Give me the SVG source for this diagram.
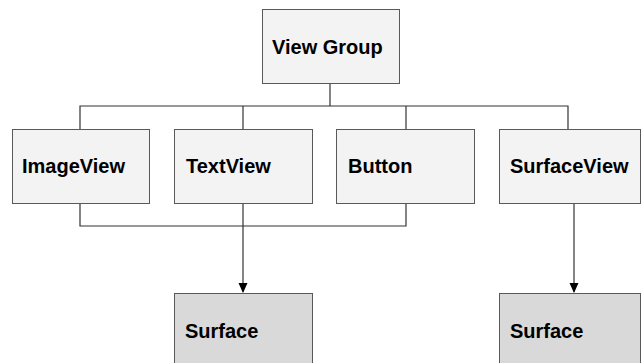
<svg xmlns="http://www.w3.org/2000/svg" width="642" height="363" viewBox="0 0 642 363">
<style>
.box{fill:#f3f3f3;stroke:#595959;stroke-width:1}
.surf{fill:#d9d9d9;stroke:#595959;stroke-width:1}
.lbl{font-family:"Liberation Sans",Arial,sans-serif;font-weight:bold;font-size:20px;fill:#000}
.ln{fill:none;stroke:#333;stroke-width:1.2}
</style>
<defs>
<marker id="arr" markerWidth="10" markerHeight="10" refX="9" refY="5" orient="auto" markerUnits="userSpaceOnUse">
<path d="M0,0.5 L10,5 L0,9.5 Z" fill="#000"/>
</marker>
</defs>
<rect width="642" height="363" fill="#fff"/>
<g id="connectors">
<path class="ln" d="M330,83 V106"/>
<path class="ln" d="M80,129 V106 H568 V129"/>
<path class="ln" d="M243,106 V129"/>
<path class="ln" d="M406,106 V129"/>
<path class="ln" d="M80,203 V226 H406 V203"/>
<path class="ln" d="M243,203 V292" marker-end="url(#arr)"/>
<path class="ln" d="M574,203 V292" marker-end="url(#arr)"/>
</g>
<g id="viewgroup"><rect class="box" x="262.5" y="9.5" width="137" height="74"/><text class="lbl" x="272" y="54">View Group</text></g>
<g id="imageview"><rect class="box" x="12.5" y="129.5" width="137" height="74"/><text class="lbl" x="22" y="173">ImageView</text></g>
<g id="textview"><rect class="box" x="174.5" y="129.5" width="138" height="74"/><text class="lbl" x="186" y="173">TextView</text></g>
<g id="button"><rect class="box" x="336.5" y="129.5" width="138" height="74"/><text class="lbl" x="348" y="173">Button</text></g>
<g id="surfaceview"><rect class="box" x="499.5" y="129.5" width="141" height="74"/><text class="lbl" x="510" y="173">SurfaceView</text></g>
<g id="surface1"><rect class="surf" x="174.5" y="293.5" width="138" height="74"/><text class="lbl" x="185" y="338">Surface</text></g>
<g id="surface2"><rect class="surf" x="499.5" y="293.5" width="141" height="74"/><text class="lbl" x="510" y="338">Surface</text></g>
</svg>
